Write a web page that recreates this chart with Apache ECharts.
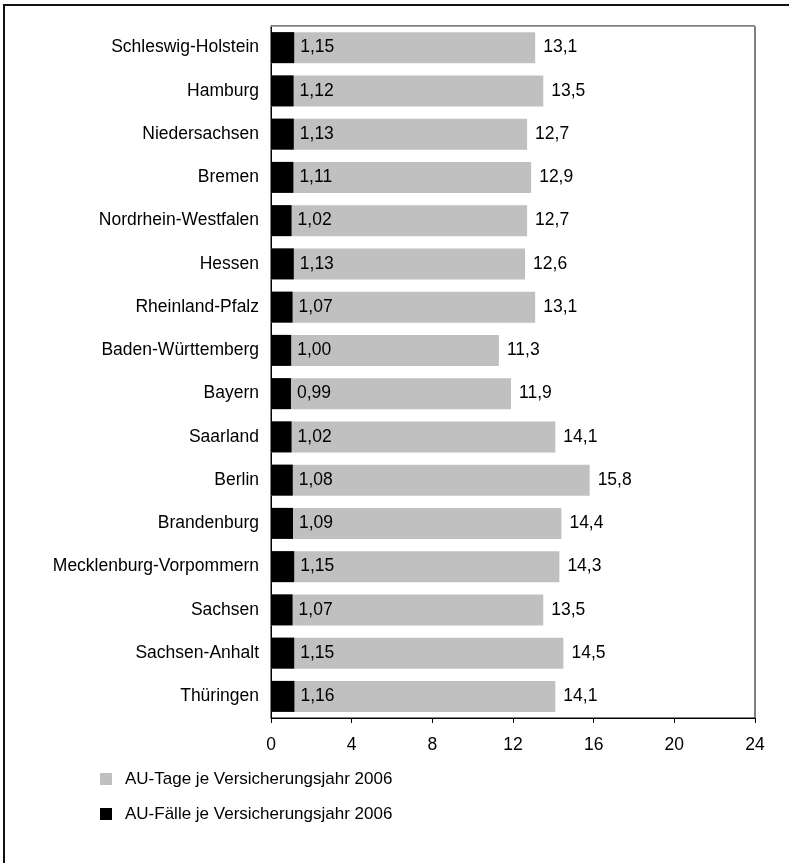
<!DOCTYPE html>
<html>
<head>
<meta charset="utf-8">
<script src="https://cdn.jsdelivr.net/npm/echarts@6/dist/echarts.min.js"></script>
<style>
  html, body { margin: 0; padding: 0; background: #fff; }
  #chart { width: 789px; height: 863px; }
</style>
</head>
<body>
<div id="chart"></div>
<script>
// Bundesländer, von oben nach unten
var laender = [
    'Schleswig-Holstein', 'Hamburg', 'Niedersachsen', 'Bremen',
    'Nordrhein-Westfalen', 'Hessen', 'Rheinland-Pfalz', 'Baden-Württemberg',
    'Bayern', 'Saarland', 'Berlin', 'Brandenburg',
    'Mecklenburg-Vorpommern', 'Sachsen', 'Sachsen-Anhalt', 'Thüringen'
];
var auTage = [13.1, 13.5, 12.7, 12.9, 12.7, 12.6, 13.1, 11.3, 11.9, 14.1, 15.8, 14.4, 14.3, 13.5, 14.5, 14.1];
var auFaelle = [1.15, 1.12, 1.13, 1.11, 1.02, 1.13, 1.07, 1.00, 0.99, 1.02, 1.08, 1.09, 1.15, 1.07, 1.15, 1.16];

const FONT = 'Liberation Sans';
const FS = 17.5;
const GRAY = '#c0c0c0';

var komma = function (v, d) {
    return v.toFixed(d).replace('.', ',');
};

var myChart = echarts.init(document.getElementById('chart'));

var option = {
    animation: false,
    textStyle: { fontFamily: FONT },
    grid: {
        left: 271,
        right: 34,
        top: 26,
        bottom: 145,
        show: true,
        borderColor: '#000',
        borderWidth: 1
    },
    legend: {
        orient: 'vertical',
        left: 100,
        top: 769,
        padding: 0,
        itemWidth: 12,
        itemHeight: 12,
        itemGap: 15,
        icon: 'rect',
        textStyle: { fontSize: 17, lineHeight: 20, color: '#000', fontFamily: FONT, padding: [0, 0, 0, 8] },
        data: ['AU-Tage je Versicherungsjahr 2006', 'AU-Fälle je Versicherungsjahr 2006']
    },
    xAxis: [{
        type: 'value',
        min: 0,
        max: 24,
        interval: 4,
        axisLine: { show: true, lineStyle: { color: '#000' } },
        axisTick: { show: true, length: 5, lineStyle: { color: '#000' } },
        axisLabel: { fontSize: FS, color: '#000', margin: 18 },
        splitLine: { show: false }
    }, {
        // obere Rahmenlinie in grau
        type: 'value',
        position: 'top',
        min: 0,
        max: 24,
        axisLine: { show: true, lineStyle: { color: '#a0a0a0' } },
        axisTick: { show: false },
        axisLabel: { show: false },
        splitLine: { show: false }
    }],
    yAxis: {
        type: 'category',
        inverse: true,
        data: laender,
        axisLine: { show: true, lineStyle: { color: '#000' } },
        axisTick: { show: false },
        axisLabel: { fontSize: FS, color: '#000', margin: 12 }
    },
    series: [{
        name: 'AU-Tage je Versicherungsjahr 2006',
        type: 'bar',
        data: auTage,
        barWidth: 31,
        itemStyle: { color: GRAY },
        label: {
            show: true,
            position: 'right',
            distance: 8,
            fontSize: FS,
            color: '#000',
            formatter: function (p) { return komma(p.value, 1); }
        }
    }, {
        name: 'AU-Fälle je Versicherungsjahr 2006',
        type: 'bar',
        data: auFaelle,
        barWidth: 31,
        barGap: '-100%',
        itemStyle: { color: '#000' },
        label: {
            show: true,
            position: 'right',
            distance: 6,
            fontSize: FS,
            color: '#000',
            formatter: function (p) { return komma(p.value, 2); }
        }
    }],
    graphic: [{
        type: 'polyline',
        shape: { points: [[4, 863], [4, 5], [789, 5]] },
        style: { stroke: '#111', lineWidth: 2, fill: null }
    }]
};

myChart.setOption(option);
</script>
</body>
</html>
